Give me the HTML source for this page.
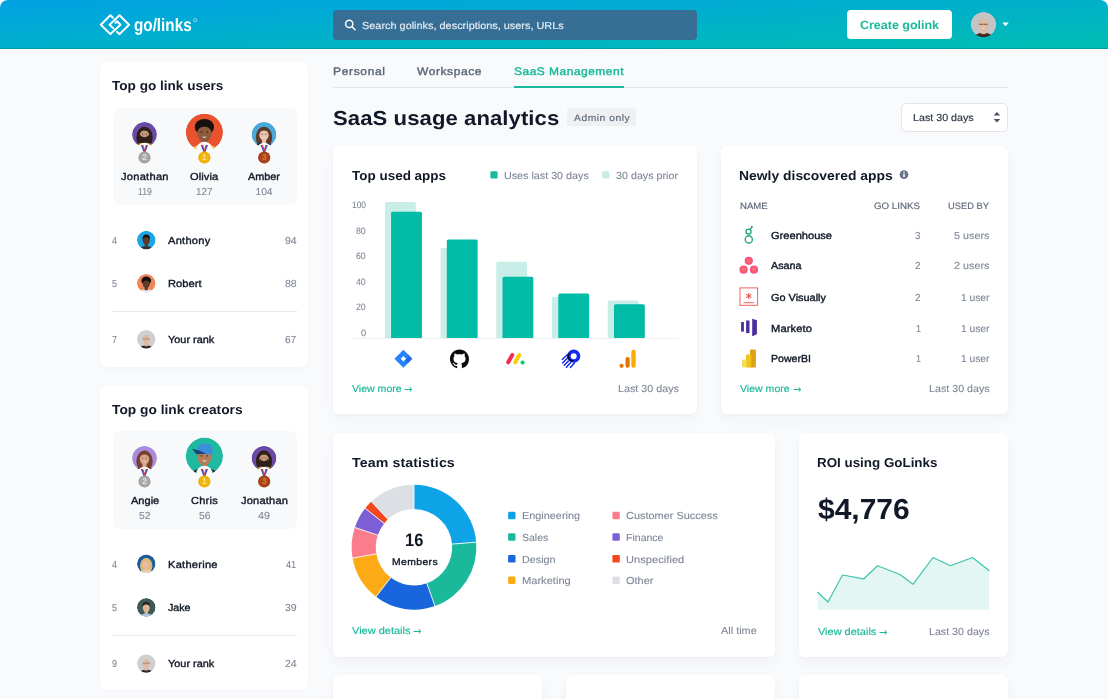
<!DOCTYPE html>
<html lang="en">
<head>
<meta charset="utf-8">
<title>GoLinks – SaaS usage analytics</title>
<style>
html,body{margin:0;padding:0;background:#fff;}
body{width:1108px;height:699px;overflow:hidden;position:relative;font-family:"Liberation Sans",sans-serif;}
#app{position:absolute;left:0;top:0;width:1108px;height:699px;background:#f9fafc;border-radius:8px 8px 0 0;overflow:hidden;}
.abs{position:absolute;}
.t{position:absolute;line-height:1;white-space:pre;transform-origin:0 50%;text-rendering:geometricPrecision;}
#hdr{position:absolute;left:0;top:0;width:1108px;height:48.6px;background:linear-gradient(to bottom right,#00a2e3,#00beb2);}
.card{position:absolute;background:#fff;border-radius:6px;box-shadow:0 6px 14px rgba(40,50,70,.04),0 1px 3px rgba(40,50,70,.025);}
.lcard{position:absolute;background:#fff;border-radius:7px;box-shadow:0 2px 6px rgba(30,50,90,.025);}
.panel{position:absolute;background:#f8f9fb;border-radius:7px;}
.hr{position:absolute;height:1px;background:#e6e8ec;}
.sq{position:absolute;width:7.5px;height:7.5px;border-radius:1.5px;}
</style>
</head>
<body>
<div id="app">
<div id="hdr"></div>
<div class="abs" style="left:0;top:47.7px;width:1108px;height:1px;background:rgba(0,70,120,.22);"></div>
<div class="abs" style="left:0;top:48.7px;width:1108px;height:1.6px;background:linear-gradient(#fff,rgba(255,255,255,0));"></div>
<!-- search -->
<div class="abs" style="left:333px;top:10px;width:364px;height:29.5px;border-radius:4px;background:#366e95;"></div>
<!-- create button -->
<div class="abs" style="left:847.3px;top:9.9px;width:104.9px;height:29.6px;border-radius:4px;background:#fff;"></div>

<!-- left cards -->
<div class="lcard" style="left:100px;top:61.6px;width:208.4px;height:305px;"></div>
<div class="panel" style="left:112.5px;top:107.5px;width:184px;height:97.5px;"></div>
<div class="hr" style="left:112px;top:310.8px;width:184.5px;"></div>
<div class="lcard" style="left:100px;top:386px;width:208.4px;height:304px;"></div>
<div class="panel" style="left:112.5px;top:431.3px;width:184px;height:97.5px;"></div>
<div class="hr" style="left:112px;top:634.7px;width:184.5px;"></div>

<!-- tabs line -->
<div class="hr" style="left:333px;top:87px;width:675px;background:#e3e7ec;"></div>
<div class="abs" style="left:513.5px;top:86px;width:110.5px;height:2.2px;background:#1ab99b;"></div>
<!-- admin badge -->
<div class="abs" style="left:567px;top:108px;width:69px;height:18.3px;border-radius:3px;background:#eef0f3;"></div>
<!-- dropdown -->
<div class="abs" style="left:900.5px;top:102.5px;width:107.3px;height:29.3px;box-sizing:border-box;border:1px solid #e2e6eb;border-radius:5px;background:#fff;"></div>

<!-- cards -->
<div class="card" style="left:333px;top:146.3px;width:364px;height:268px;"></div>
<div class="card" style="left:721.2px;top:146.3px;width:286.6px;height:268px;"></div>
<div class="card" style="left:333px;top:433.1px;width:442.4px;height:223.6px;"></div>
<div class="card" style="left:798.6px;top:433.1px;width:209.3px;height:223.6px;"></div>
<div class="card" style="left:333px;top:675.2px;width:209.3px;height:60px;"></div>
<div class="card" style="left:566px;top:675.2px;width:209.3px;height:60px;"></div>
<div class="card" style="left:798.6px;top:675.2px;width:209.3px;height:60px;"></div>

<svg class="abs" style="left:0;top:0" width="1108" height="699" viewBox="0 0 1108 699">
<g fill="none" stroke="#fff" stroke-width="2.0" stroke-linejoin="round" stroke-linecap="round">
<path d="M112.9 17.7 L110.4 15.3 L100.8 24.7 L110.4 34.1 L120.5 24.7 L117.1 21.3 L115.5 22.9"/>
<path d="M117 31.7 L119.5 34.1 L129.1 24.7 L119.5 15.3 L109.6 24.7 L113.4 28.4"/>
</g>
<circle cx="195.3" cy="20.2" r="1.6" fill="none" stroke="#fff" stroke-opacity=".75" stroke-width=".7"/>
<g fill="none" stroke="#fff" stroke-width="1.5" stroke-linecap="round"><circle cx="349.2" cy="23.9" r="3.6"/><path d="M352 26.8 L355 29.8"/></g>
<path d="M1002.2 22.6 h6.6 l-3.3 3.6 z" fill="#fff"/>
<path d="M993.6 115.6 l3.3 -3.6 l3.3 3.6 z M993.6 118.9 l3.3 3.6 l3.3 -3.6 z" fill="#4a5568"/>
<circle cx="904" cy="174.6" r="4.4" fill="#6b7587"/><rect x="903.3" y="173.9" width="1.4" height="3.2" fill="#fff"/><rect x="903.3" y="171.8" width="1.4" height="1.3" fill="#fff"/>
<rect x="490.4" y="171.3" width="7.2" height="7.2" rx="1.3" fill="#1ab99b"/>
<rect x="602.2" y="171.3" width="7.2" height="7.2" rx="1.3" fill="#c5ede5"/>
<path d="M385 338.0 V203.5 q0 -1.5 1.5 -1.5 H414.3 q1.5 0 1.5 1.5 V338.0 z" fill="#c8eee7"/>
<path d="M440.6 338.0 V249.5 q0 -1.5 1.5 -1.5 H469.90000000000003 q1.5 0 1.5 1.5 V338.0 z" fill="#c8eee7"/>
<path d="M496.3 338.0 V263.3 q0 -1.5 1.5 -1.5 H525.6 q1.5 0 1.5 1.5 V338.0 z" fill="#c8eee7"/>
<path d="M552 338.0 V298.5 q0 -1.5 1.5 -1.5 H581.3 q1.5 0 1.5 1.5 V338.0 z" fill="#c8eee7"/>
<path d="M607.8 338.0 V301.9 q0 -1.5 1.5 -1.5 H637.0999999999999 q1.5 0 1.5 1.5 V338.0 z" fill="#c8eee7"/>
<path d="M391.1 338.0 V213.3 q0 -1.5 1.5 -1.5 H420.40000000000003 q1.5 0 1.5 1.5 V338.0 z" fill="#00bba5"/>
<path d="M446.8 338.0 V241.0 q0 -1.5 1.5 -1.5 H476.1 q1.5 0 1.5 1.5 V338.0 z" fill="#00bba5"/>
<path d="M502.5 338.0 V278.3 q0 -1.5 1.5 -1.5 H531.8 q1.5 0 1.5 1.5 V338.0 z" fill="#00bba5"/>
<path d="M558.3 338.0 V295.0 q0 -1.5 1.5 -1.5 H587.5999999999999 q1.5 0 1.5 1.5 V338.0 z" fill="#00bba5"/>
<path d="M614 338.0 V305.8 q0 -1.5 1.5 -1.5 H643.3 q1.5 0 1.5 1.5 V338.0 z" fill="#00bba5"/>
<rect x="351.5" y="338.0" width="328" height="1" fill="#eef1f4"/>
<g transform="translate(403.4 358.8)"><path d="M0 -9 L9 0 L0 9 L-9 0 z" fill="#2684ff"/><path d="M0 -9 L4.6 -4.4 L0 0.2 L-2.7 -2.6 L0 -5.3 z" fill="#1c5bd2" opacity=".55" transform="translate(4.4 4.4)"/><path d="M-9 0 L-4.5 4.5 L0 0 L0 -2.7 L-2.7 0 z" fill="#1c5bd2" opacity=".0"/><path d="M0 -2.7 L2.7 0 L0 2.7 L-2.7 0 z" fill="#fff"/></g>
<g transform="translate(450 349.6) scale(1.1875)"><path fill="#0b0b0b" d="M8 0C3.58 0 0 3.58 0 8c0 3.54 2.29 6.53 5.47 7.59.4.07.55-.17.55-.38 0-.19-.01-.82-.01-1.49-2.01.37-2.53-.49-2.69-.94-.09-.23-.48-.94-.82-1.13-.28-.15-.68-.52-.01-.53.63-.01 1.08.58 1.23.82.72 1.21 1.87.87 2.33.66.07-.52.28-.87.51-1.07-1.78-.2-3.64-.89-3.64-3.95 0-.87.31-1.59.82-2.15-.08-.2-.36-1.02.08-2.12 0 0 .67-.21 2.2.82.64-.18 1.32-.27 2-.27s1.36.09 2 .27c1.53-1.04 2.2-.82 2.2-.82.44 1.1.16 1.92.08 2.12.51.56.82 1.27.82 2.15 0 3.07-1.87 3.75-3.65 3.95.29.25.54.73.54 1.48 0 1.07-.01 1.93-.01 2.2 0 .21.15.46.55.38A8.01 8.01 0 0 0 16 8c0-4.42-3.58-8-8-8z"/></g>
<g stroke-linecap="round" stroke-width="4" fill="none"><path d="M508.2 362.3 L512.3 355.1" stroke="#f62b54"/><path d="M515.2 362.3 L519.3 355.1" stroke="#ffcc00"/></g><circle cx="522.6" cy="362.5" r="2.1" fill="#00ca72"/>
<g fill="none" stroke="#1428f0" stroke-linecap="round"><circle cx="573.7" cy="356.2" r="4.8" stroke-width="3.6"/><g stroke-width="1.45"><path d="M567.0 355.0 L562.3 359.6"/><path d="M567.6 358.0 L562.6 362.9"/><path d="M568.4 360.9 L564.2 365.2"/><path d="M570.6 362.6 L566.4 367.2"/><path d="M574.4 362.9 L570.4 367.4"/></g></g><path d="M569.2 353.6 A4.3 4.3 0 0 0 573.6 360.6" fill="none" stroke="#07072e" stroke-width="1.5"/>
<rect x="631.3" y="349.8" width="4.4" height="18" rx="2.2" fill="#f9ab00"/><rect x="625.5" y="357" width="4.2" height="10.8" rx="2.1" fill="#e37400"/><circle cx="621.6" cy="365.8" r="2.1" fill="#e37400"/>
<g fill="none" stroke="#24a47f" stroke-width="1.35"><circle cx="748.8" cy="239.4" r="3.6"/><circle cx="748.5" cy="231.6" r="2.5"/><path d="M750.2 229.6 L751.6 227.6" stroke-linecap="round"/></g><circle cx="751.9" cy="226.7" r="0.95" fill="#24a47f"/>
<defs><radialGradient id="as" cx="50%" cy="50%" r="50%"><stop offset="0" stop-color="#ff9a3c"/><stop offset=".55" stop-color="#f95d8f"/><stop offset="1" stop-color="#f4506f"/></radialGradient></defs>
<circle cx="748.8" cy="260.8" r="4.1" fill="#f6557d"/><circle cx="748.8" cy="260.8" r="2" fill="#fb7f5e" opacity=".6"/>
<circle cx="743.6" cy="269.7" r="4.1" fill="#f6557d"/><circle cx="743.6" cy="269.7" r="2" fill="#fb7f5e" opacity=".6"/>
<circle cx="754" cy="269.7" r="4.1" fill="#f6557d"/><circle cx="754" cy="269.7" r="2" fill="#fb7f5e" opacity=".6"/>
<rect x="740" y="287.9" width="17.6" height="17.4" fill="#fff" stroke="#f0625a" stroke-width="1"/><path d="M743.4 302.7 H754.2" stroke="#f0625a" stroke-width="1"/><g stroke="#ee4b43" stroke-width="1" stroke-linecap="round"><path d="M748.8 293.2 V298.8 M746.4 294.6 L751.2 297.4 M751.2 294.6 L746.4 297.4"/></g>
<g fill="#4b2e9b"><rect x="741.1" y="322" width="2.8" height="9.6"/><rect x="746.1" y="320.5" width="3.4" height="12.6"/><path d="M752.2 318.7 L756.9 320.2 V334.2 L752.2 336.2 z"/></g>
<rect x="750" y="349.6" width="5.9" height="18" rx=".8" fill="#e0a019"/><rect x="746" y="354.4" width="5.2" height="13.2" rx=".8" fill="#f0c419"/><rect x="742" y="359.4" width="4.6" height="8.2" rx=".8" fill="#f6dc5e"/>
<path d="M414.00 484.85 A62.4 62.4 0 0 1 476.19 542.14 L452.07 544.12 A38.199999999999996 38.199999999999996 0 0 0 414.00 509.05 z" fill="#0ea2e6"/>
<path d="M476.19 542.14 A62.4 62.4 0 0 1 434.93 606.03 L426.81 583.24 A38.199999999999996 38.199999999999996 0 0 0 452.07 544.12 z" fill="#1ab99b"/>
<path d="M434.93 606.03 A62.4 62.4 0 0 1 376.01 596.76 L390.75 577.56 A38.199999999999996 38.199999999999996 0 0 0 426.81 583.24 z" fill="#1865dd"/>
<path d="M376.01 596.76 A62.4 62.4 0 0 1 352.55 558.09 L376.38 553.88 A38.199999999999996 38.199999999999996 0 0 0 390.75 577.56 z" fill="#fcab17"/>
<path d="M352.55 558.09 A62.4 62.4 0 0 1 354.82 527.45 L377.77 535.13 A38.199999999999996 38.199999999999996 0 0 0 376.38 553.88 z" fill="#fb7d8b"/>
<path d="M354.82 527.45 A62.4 62.4 0 0 1 365.23 508.32 L384.15 523.42 A38.199999999999996 38.199999999999996 0 0 0 377.77 535.13 z" fill="#7c5fd4"/>
<path d="M365.23 508.32 A62.4 62.4 0 0 1 371.44 501.61 L387.95 519.31 A38.199999999999996 38.199999999999996 0 0 0 384.15 523.42 z" fill="#f4471f"/>
<path d="M371.44 501.61 A62.4 62.4 0 0 1 414.00 484.85 L414.00 509.05 A38.199999999999996 38.199999999999996 0 0 0 387.95 519.31 z" fill="#dcdfe4"/>
<path d="M414.00 484.35 L414.00 509.55" stroke="#fff" stroke-width="1" stroke-opacity=".85"/>
<path d="M476.69 542.10 L451.57 544.16" stroke="#fff" stroke-width="1" stroke-opacity=".85"/>
<path d="M435.10 606.51 L426.65 582.77" stroke="#fff" stroke-width="1" stroke-opacity=".85"/>
<path d="M375.71 597.15 L391.05 577.16" stroke="#fff" stroke-width="1" stroke-opacity=".85"/>
<path d="M352.06 558.17 L376.87 553.80" stroke="#fff" stroke-width="1" stroke-opacity=".85"/>
<path d="M354.35 527.29 L378.25 535.29" stroke="#fff" stroke-width="1" stroke-opacity=".85"/>
<path d="M364.84 508.01 L384.54 523.73" stroke="#fff" stroke-width="1" stroke-opacity=".85"/>
<path d="M371.10 501.25 L388.29 519.68" stroke="#fff" stroke-width="1" stroke-opacity=".85"/>
<rect x="508.1" y="511.8" width="7.4" height="7.4" rx="1.3" fill="#0ea2e6"/>
<rect x="508.1" y="533.3" width="7.4" height="7.4" rx="1.3" fill="#1ab99b"/>
<rect x="508.1" y="555.05" width="7.4" height="7.4" rx="1.3" fill="#1865dd"/>
<rect x="508.1" y="576.55" width="7.4" height="7.4" rx="1.3" fill="#fcab17"/>
<rect x="612.4" y="511.8" width="7.4" height="7.4" rx="1.3" fill="#fb7d8b"/>
<rect x="612.4" y="533.3" width="7.4" height="7.4" rx="1.3" fill="#7c5fd4"/>
<rect x="612.4" y="555.05" width="7.4" height="7.4" rx="1.3" fill="#f4471f"/>
<rect x="612.4" y="576.55" width="7.4" height="7.4" rx="1.3" fill="#dcdfe4"/>
<path d="M817.5 592 L828 602 L842.5 575 L863.8 578.8 L877.5 565.8 L900 574.5 L913 584.3 L933 557.5 L950.5 565.8 L972.5 557.5 L989.3 570.8 L989.3 609.8 L817.5 609.8 z" fill="#e3f6f3"/>
<path d="M817.5 592 L828 602 L842.5 575 L863.8 578.8 L877.5 565.8 L900 574.5 L913 584.3 L933 557.5 L950.5 565.8 L972.5 557.5 L989.3 570.8" fill="none" stroke="#3cc5ad" stroke-width="1.2" stroke-linejoin="round"/>
<clipPath id="av1"><circle cx="144.5" cy="134.4" r="12.4"/></clipPath>
<g clip-path="url(#av1)">
<circle cx="144.5" cy="134.4" r="12.4" fill="#6a4aa5"/>
<ellipse cx="144.5" cy="137.38" rx="8.18" ry="10.66" fill="#2e2019"/>
<ellipse cx="144.5" cy="149.28" rx="11.16" ry="6.82" fill="#b48a3a"/>
<rect x="142.39" y="138.12" width="4.22" height="5.58" fill="#c99778"/>
<ellipse cx="144.5" cy="134.65" rx="4.71" ry="6.20" fill="#c99778"/>
<path d="M139.79 134.65 Q139.79 143.33 144.5 143.33 Q149.21 143.33 149.21 134.65 Q144.5 139.86 139.79 134.65 z" fill="#2e2019"/>
<path d="M139.42 133.90 Q139.17 126.96 144.5 126.96 Q149.83 126.96 149.58 133.90 Q147.23 130.18 144.5 130.68 Q141.77 130.18 139.42 133.90 z" fill="#2e2019"/>
<circle cx="142.64" cy="134.15" r="0.56" fill="#2a1a14" opacity=".75"/><circle cx="146.36" cy="134.15" r="0.56" fill="#2a1a14" opacity=".75"/>
</g>
<clipPath id="av2"><circle cx="204.4" cy="132.3" r="18.6"/></clipPath>
<g clip-path="url(#av2)">
<circle cx="204.4" cy="132.3" r="18.6" fill="#e9512f"/>
<ellipse cx="204.4" cy="127.09" rx="9.67" ry="8.18" fill="#17110f"/>
<ellipse cx="204.4" cy="154.62" rx="16.74" ry="10.23" fill="#f0c46a"/>
<rect x="201.24" y="137.88" width="6.32" height="8.37" fill="#8c5b3e"/>
<ellipse cx="204.4" cy="132.67" rx="7.07" ry="9.30" fill="#8c5b3e"/>
<path d="M196.77 131.56 Q196.40 121.14 204.4 121.14 Q212.40 121.14 212.03 131.56 Q208.49 125.98 204.4 126.72 Q200.31 125.98 196.77 131.56 z" fill="#17110f"/>
<circle cx="201.61" cy="131.93" r="0.84" fill="#2a1a14" opacity=".75"/><circle cx="207.19" cy="131.93" r="0.84" fill="#2a1a14" opacity=".75"/>
<path d="M201.98 136.76 Q204.4 139.00 206.82 136.76 z" fill="#fff" opacity=".85"/>
</g>
<clipPath id="av3"><circle cx="264.0" cy="134.4" r="12.4"/></clipPath>
<g clip-path="url(#av3)">
<circle cx="264.0" cy="134.4" r="12.4" fill="#49a8d6"/>
<ellipse cx="264.0" cy="137.38" rx="8.18" ry="10.66" fill="#5e3a2a"/>
<ellipse cx="264.0" cy="149.28" rx="11.16" ry="6.82" fill="#1e2a44"/>
<rect x="261.89" y="138.12" width="4.22" height="5.58" fill="#e9c3ad"/>
<ellipse cx="264.0" cy="134.65" rx="4.71" ry="6.20" fill="#e9c3ad"/>
<path d="M258.92 133.90 Q258.67 126.96 264.0 126.96 Q269.33 126.96 269.08 133.90 Q266.73 130.18 264.0 130.68 Q261.27 130.18 258.92 133.90 z" fill="#5e3a2a"/>
<circle cx="262.14" cy="134.15" r="0.56" fill="#2a1a14" opacity=".75"/><circle cx="265.86" cy="134.15" r="0.56" fill="#2a1a14" opacity=".75"/>
<path d="M262.39 137.38 Q264.0 138.86 265.61 137.38 z" fill="#fff" opacity=".85"/>
</g>
<clipPath id="av4"><circle cx="146.25" cy="240" r="9.3"/></clipPath>
<g clip-path="url(#av4)">
<circle cx="146.25" cy="240" r="9.3" fill="#19a6e2"/>
<ellipse cx="146.25" cy="251.16" rx="8.37" ry="5.12" fill="#26323a"/>
<rect x="144.67" y="242.79" width="3.16" height="4.19" fill="#5a3a2a"/>
<ellipse cx="146.25" cy="240.19" rx="3.53" ry="4.65" fill="#5a3a2a"/>
<path d="M142.44 239.63 Q142.25 234.42 146.25 234.42 Q150.25 234.42 150.06 239.63 Q148.30 236.84 146.25 237.21 Q144.20 236.84 142.44 239.63 z" fill="#16110f"/>
</g>
<clipPath id="av5"><circle cx="146.25" cy="283.25" r="9.3"/></clipPath>
<g clip-path="url(#av5)">
<circle cx="146.25" cy="283.25" r="9.3" fill="#f0865c"/>
<ellipse cx="146.25" cy="280.65" rx="4.84" ry="4.09" fill="#15100e"/>
<ellipse cx="146.25" cy="294.41" rx="8.37" ry="5.12" fill="#e9edf2"/>
<rect x="144.67" y="286.04" width="3.16" height="4.19" fill="#5c3b2b"/>
<ellipse cx="146.25" cy="283.44" rx="3.53" ry="4.65" fill="#5c3b2b"/>
<path d="M142.44 282.88 Q142.25 277.67 146.25 277.67 Q150.25 277.67 150.06 282.88 Q148.30 280.09 146.25 280.46 Q144.20 280.09 142.44 282.88 z" fill="#15100e"/>
</g>
<clipPath id="av6"><circle cx="146.25" cy="339.25" r="9.3"/></clipPath>
<g clip-path="url(#av6)">
<circle cx="146.25" cy="339.25" r="9.3" fill="#cfcfcf"/>
<ellipse cx="146.25" cy="350.41" rx="8.37" ry="5.12" fill="#2a2a2a"/>
<rect x="144.67" y="342.04" width="3.16" height="4.19" fill="#e2b9a0"/>
<ellipse cx="146.25" cy="339.44" rx="3.53" ry="4.65" fill="#e2b9a0"/>
<path d="M142.72 338.97 H149.78" stroke="#5a5048" stroke-width="0.65" opacity=".7"/>
</g>
<clipPath id="av7"><circle cx="144.5" cy="458.3" r="12.4"/></clipPath>
<g clip-path="url(#av7)">
<circle cx="144.5" cy="458.3" r="12.4" fill="#a88ddd"/>
<ellipse cx="144.5" cy="461.28" rx="8.18" ry="10.66" fill="#7a3f33"/>
<ellipse cx="144.5" cy="473.18" rx="11.16" ry="6.82" fill="#6d3a30"/>
<rect x="142.39" y="462.02" width="4.22" height="5.58" fill="#d9a689"/>
<ellipse cx="144.5" cy="458.55" rx="4.71" ry="6.20" fill="#d9a689"/>
<path d="M139.42 457.80 Q139.17 450.86 144.5 450.86 Q149.83 450.86 149.58 457.80 Q147.23 454.08 144.5 454.58 Q141.77 454.08 139.42 457.80 z" fill="#7a3f33"/>
<circle cx="142.64" cy="458.05" r="0.56" fill="#2a1a14" opacity=".75"/><circle cx="146.36" cy="458.05" r="0.56" fill="#2a1a14" opacity=".75"/>
<path d="M142.89 461.28 Q144.5 462.76 146.11 461.28 z" fill="#fff" opacity=".85"/>
</g>
<clipPath id="av8"><circle cx="204.4" cy="456.1" r="18.6"/></clipPath>
<g clip-path="url(#av8)">
<circle cx="204.4" cy="456.1" r="18.6" fill="#1fb9a1"/>
<ellipse cx="204.4" cy="478.42" rx="16.74" ry="10.23" fill="#2a2d33"/>
<rect x="201.24" y="461.68" width="6.32" height="8.37" fill="#b37d5a"/>
<ellipse cx="204.4" cy="456.47" rx="7.07" ry="9.30" fill="#b37d5a"/>
<path d="M196.22 453.87 Q195.84 443.08 204.77 443.45 Q213.70 443.82 212.58 454.61 z" fill="#3b8fd9"/>
<path d="M192.12 448.66 Q198.82 449.78 206.26 453.87 L196.59 454.24 z" fill="#1d3f7a"/>
<circle cx="201.61" cy="455.73" r="0.84" fill="#2a1a14" opacity=".75"/><circle cx="207.19" cy="455.73" r="0.84" fill="#2a1a14" opacity=".75"/>
<path d="M201.98 460.56 Q204.4 462.80 206.82 460.56 z" fill="#fff" opacity=".85"/>
</g>
<clipPath id="av9"><circle cx="264.0" cy="458.3" r="12.4"/></clipPath>
<g clip-path="url(#av9)">
<circle cx="264.0" cy="458.3" r="12.4" fill="#6a4aa5"/>
<ellipse cx="264.0" cy="461.28" rx="8.18" ry="10.66" fill="#2e2019"/>
<ellipse cx="264.0" cy="473.18" rx="11.16" ry="6.82" fill="#b48a3a"/>
<rect x="261.89" y="462.02" width="4.22" height="5.58" fill="#c99778"/>
<ellipse cx="264.0" cy="458.55" rx="4.71" ry="6.20" fill="#c99778"/>
<path d="M259.29 458.55 Q259.29 467.23 264.0 467.23 Q268.71 467.23 268.71 458.55 Q264.0 463.76 259.29 458.55 z" fill="#2e2019"/>
<path d="M258.92 457.80 Q258.67 450.86 264.0 450.86 Q269.33 450.86 269.08 457.80 Q266.73 454.08 264.0 454.58 Q261.27 454.08 258.92 457.80 z" fill="#2e2019"/>
<circle cx="262.14" cy="458.05" r="0.56" fill="#2a1a14" opacity=".75"/><circle cx="265.86" cy="458.05" r="0.56" fill="#2a1a14" opacity=".75"/>
</g>
<clipPath id="av10"><circle cx="146.25" cy="563.8" r="9.3"/></clipPath>
<g clip-path="url(#av10)">
<circle cx="146.25" cy="563.8" r="9.3" fill="#1b5c9c"/>
<ellipse cx="146.25" cy="566.03" rx="6.14" ry="8.00" fill="#dfb877"/>
<ellipse cx="146.25" cy="574.96" rx="8.37" ry="5.12" fill="#e7d2b8"/>
<rect x="144.67" y="566.59" width="3.16" height="4.19" fill="#e8bd9f"/>
<ellipse cx="146.25" cy="563.99" rx="3.53" ry="4.65" fill="#e8bd9f"/>
<path d="M142.44 563.43 Q142.25 558.22 146.25 558.22 Q150.25 558.22 150.06 563.43 Q148.30 560.64 146.25 561.01 Q144.20 560.64 142.44 563.43 z" fill="#dfb877"/>
</g>
<clipPath id="av11"><circle cx="146.25" cy="607.4" r="9.3"/></clipPath>
<g clip-path="url(#av11)">
<circle cx="146.25" cy="607.4" r="9.3" fill="#3e5a55"/>
<ellipse cx="146.25" cy="618.56" rx="8.37" ry="5.12" fill="#a9c7e6"/>
<rect x="144.67" y="610.19" width="3.16" height="4.19" fill="#e0b498"/>
<ellipse cx="146.25" cy="607.59" rx="3.53" ry="4.65" fill="#e0b498"/>
<path d="M142.44 607.03 Q142.25 601.82 146.25 601.82 Q150.25 601.82 150.06 607.03 Q148.30 604.24 146.25 604.61 Q144.20 604.24 142.44 607.03 z" fill="#2a221d"/>
</g>
<clipPath id="av12"><circle cx="146.25" cy="663.5" r="9.3"/></clipPath>
<g clip-path="url(#av12)">
<circle cx="146.25" cy="663.5" r="9.3" fill="#cfcfcf"/>
<ellipse cx="146.25" cy="674.66" rx="8.37" ry="5.12" fill="#2a2a2a"/>
<rect x="144.67" y="666.29" width="3.16" height="4.19" fill="#e2b9a0"/>
<ellipse cx="146.25" cy="663.69" rx="3.53" ry="4.65" fill="#e2b9a0"/>
<path d="M142.72 663.22 H149.78" stroke="#5a5048" stroke-width="0.65" opacity=".7"/>
</g>
<clipPath id="av13"><circle cx="983.5" cy="24.6" r="12.7"/></clipPath>
<g clip-path="url(#av13)">
<circle cx="983.5" cy="24.6" r="12.7" fill="#c4c4c4"/>
<ellipse cx="983.5" cy="39.84" rx="11.43" ry="6.99" fill="#3a2d28"/>
<rect x="981.34" y="28.41" width="4.32" height="5.71" fill="#e2b9a0"/>
<ellipse cx="983.5" cy="24.85" rx="4.83" ry="6.35" fill="#e2b9a0"/>
<path d="M978.67 24.22 H988.33" stroke="#5a5048" stroke-width="0.89" opacity=".7"/>
<circle cx="981.60" cy="24.35" r="0.57" fill="#2a1a14" opacity=".75"/><circle cx="985.40" cy="24.35" r="0.57" fill="#2a1a14" opacity=".75"/>
<path d="M981.85 27.65 Q983.5 29.17 985.15 27.65 z" fill="#fff" opacity=".85"/>
</g>
<circle cx="144.5" cy="150.1" r="7.4" fill="#f8f9fb"/>
<path d="M140.9 144.9 l1.7 0 l1.9 5.6 l1.9 -5.6 l1.7 0 l-2.7 7.4 l-1.8 0 z" fill="#2a4fc8"/>
<path d="M142.1 144.9 l1.2 0 l1.2 4 l1.2 -4 l1.2 0 l-1.9 6 l-1 0 z" fill="#e23b3b"/>
<path d="M143.8 144.9 h1.4 l-.7 2.6 z" fill="#fff"/>
<circle cx="144.5" cy="157.5" r="6.1" fill="#a9a9a9"/><circle cx="144.5" cy="157.5" r="5.2" fill="none" stroke="#8e8e8e" stroke-width=".6" opacity=".6"/>
<text x="144.5" y="160.4" text-anchor="middle" font-family="Liberation Sans, sans-serif" font-weight="700" font-size="8.2" fill="#e0e0e0">2</text>
<circle cx="204.4" cy="150.1" r="8.3" fill="#f8f9fb"/>
<path d="M200.8 144.9 l1.7 0 l1.9 5.6 l1.9 -5.6 l1.7 0 l-2.7 7.4 l-1.8 0 z" fill="#2a4fc8"/>
<path d="M202.0 144.9 l1.2 0 l1.2 4 l1.2 -4 l1.2 0 l-1.9 6 l-1 0 z" fill="#e23b3b"/>
<path d="M203.70000000000002 144.9 h1.4 l-.7 2.6 z" fill="#fff"/>
<circle cx="204.4" cy="157.5" r="6.1" fill="#f5b50d"/><circle cx="204.4" cy="157.5" r="5.2" fill="none" stroke="#d99a00" stroke-width=".6" opacity=".6"/>
<text x="204.4" y="160.4" text-anchor="middle" font-family="Liberation Sans, sans-serif" font-weight="700" font-size="8.2" fill="#ffe27a">1</text>
<circle cx="264.2" cy="150.1" r="7.4" fill="#f8f9fb"/>
<path d="M260.59999999999997 144.9 l1.7 0 l1.9 5.6 l1.9 -5.6 l1.7 0 l-2.7 7.4 l-1.8 0 z" fill="#2a4fc8"/>
<path d="M261.8 144.9 l1.2 0 l1.2 4 l1.2 -4 l1.2 0 l-1.9 6 l-1 0 z" fill="#e23b3b"/>
<path d="M263.5 144.9 h1.4 l-.7 2.6 z" fill="#fff"/>
<circle cx="264.2" cy="157.5" r="6.1" fill="#a9441d"/><circle cx="264.2" cy="157.5" r="5.2" fill="none" stroke="#8a3414" stroke-width=".6" opacity=".6"/>
<text x="264.2" y="160.4" text-anchor="middle" font-family="Liberation Sans, sans-serif" font-weight="700" font-size="8.2" fill="#e07a2d">3</text>
<circle cx="144.5" cy="474.1" r="7.4" fill="#f8f9fb"/>
<path d="M140.9 468.9 l1.7 0 l1.9 5.6 l1.9 -5.6 l1.7 0 l-2.7 7.4 l-1.8 0 z" fill="#2a4fc8"/>
<path d="M142.1 468.9 l1.2 0 l1.2 4 l1.2 -4 l1.2 0 l-1.9 6 l-1 0 z" fill="#e23b3b"/>
<path d="M143.8 468.9 h1.4 l-.7 2.6 z" fill="#fff"/>
<circle cx="144.5" cy="481.5" r="6.1" fill="#a9a9a9"/><circle cx="144.5" cy="481.5" r="5.2" fill="none" stroke="#8e8e8e" stroke-width=".6" opacity=".6"/>
<text x="144.5" y="484.4" text-anchor="middle" font-family="Liberation Sans, sans-serif" font-weight="700" font-size="8.2" fill="#e0e0e0">2</text>
<circle cx="204.4" cy="474.1" r="8.3" fill="#f8f9fb"/>
<path d="M200.8 468.9 l1.7 0 l1.9 5.6 l1.9 -5.6 l1.7 0 l-2.7 7.4 l-1.8 0 z" fill="#2a4fc8"/>
<path d="M202.0 468.9 l1.2 0 l1.2 4 l1.2 -4 l1.2 0 l-1.9 6 l-1 0 z" fill="#e23b3b"/>
<path d="M203.70000000000002 468.9 h1.4 l-.7 2.6 z" fill="#fff"/>
<circle cx="204.4" cy="481.5" r="6.1" fill="#f5b50d"/><circle cx="204.4" cy="481.5" r="5.2" fill="none" stroke="#d99a00" stroke-width=".6" opacity=".6"/>
<text x="204.4" y="484.4" text-anchor="middle" font-family="Liberation Sans, sans-serif" font-weight="700" font-size="8.2" fill="#ffe27a">1</text>
<circle cx="264.2" cy="474.1" r="7.4" fill="#f8f9fb"/>
<path d="M260.59999999999997 468.9 l1.7 0 l1.9 5.6 l1.9 -5.6 l1.7 0 l-2.7 7.4 l-1.8 0 z" fill="#2a4fc8"/>
<path d="M261.8 468.9 l1.2 0 l1.2 4 l1.2 -4 l1.2 0 l-1.9 6 l-1 0 z" fill="#e23b3b"/>
<path d="M263.5 468.9 h1.4 l-.7 2.6 z" fill="#fff"/>
<circle cx="264.2" cy="481.5" r="6.1" fill="#a9441d"/><circle cx="264.2" cy="481.5" r="5.2" fill="none" stroke="#8a3414" stroke-width=".6" opacity=".6"/>
<text x="264.2" y="484.4" text-anchor="middle" font-family="Liberation Sans, sans-serif" font-weight="700" font-size="8.2" fill="#e07a2d">3</text>
</svg>
<div class="t" style="left:134.20px;top:16px;font-size:18px;font-weight:700;color:#ffffff;transform:scaleX(0.847);">go/links</div>
<div class="t" style="left:362.00px;top:22px;font-size:10.2px;-webkit-text-stroke:0.16px currentColor;color:#e4edf4;transform:scaleX(1.070);">Search golinks, descriptions, users, URLs</div>
<div class="t" style="left:860.30px;top:19px;font-size:12px;font-weight:700;color:#1ab99b;transform:scaleX(1.040);">Create golink</div>
<div class="t" style="left:111.90px;top:79px;font-size:13px;font-weight:700;color:#111827;transform:scaleX(1.044);">Top go link users</div>
<div class="t" style="left:120.75px;top:173px;font-size:10.2px;-webkit-text-stroke:0.37px currentColor;color:#111827;letter-spacing:0.237px;transform:scaleX(1.090);">Jonathan</div>
<div class="t" style="left:190.00px;top:173px;font-size:10.2px;-webkit-text-stroke:0.37px currentColor;color:#111827;letter-spacing:0.087px;transform:scaleX(1.090);">Olivia</div>
<div class="t" style="left:248.00px;top:173px;font-size:10.2px;-webkit-text-stroke:0.37px currentColor;color:#111827;transform:scaleX(1.066);">Amber</div>
<div class="t" style="left:137.50px;top:188px;font-size:10.2px;-webkit-text-stroke:0.08px currentColor;color:#7b8494;transform:scaleX(0.846);">119</div>
<div class="t" style="left:196.00px;top:188px;font-size:10.2px;-webkit-text-stroke:0.08px currentColor;color:#7b8494;transform:scaleX(0.971);">127</div>
<div class="t" style="left:255.50px;top:188px;font-size:10.2px;-webkit-text-stroke:0.08px currentColor;color:#7b8494;">104</div>
<div class="t" style="left:112.00px;top:237px;font-size:10.2px;-webkit-text-stroke:0.08px currentColor;color:#7b8494;transform:scaleX(0.882);">4</div>
<div class="t" style="left:168.25px;top:237px;font-size:10.2px;-webkit-text-stroke:0.37px currentColor;color:#111827;letter-spacing:0.228px;transform:scaleX(1.090);">Anthony</div>
<div class="t" style="left:284.50px;top:237px;font-size:10.2px;-webkit-text-stroke:0.08px currentColor;color:#7b8494;transform:scaleX(1.036);">94</div>
<div class="t" style="left:112.00px;top:280px;font-size:10.2px;-webkit-text-stroke:0.08px currentColor;color:#7b8494;transform:scaleX(0.882);">5</div>
<div class="t" style="left:168.25px;top:280px;font-size:10.2px;-webkit-text-stroke:0.37px currentColor;color:#111827;letter-spacing:0.031px;transform:scaleX(1.090);">Robert</div>
<div class="t" style="left:284.50px;top:280px;font-size:10.2px;-webkit-text-stroke:0.08px currentColor;color:#7b8494;transform:scaleX(1.036);">88</div>
<div class="t" style="left:112.00px;top:336px;font-size:10.2px;-webkit-text-stroke:0.08px currentColor;color:#7b8494;transform:scaleX(0.882);">7</div>
<div class="t" style="left:168.25px;top:336px;font-size:10.2px;-webkit-text-stroke:0.37px currentColor;color:#111827;transform:scaleX(1.070);">Your rank</div>
<div class="t" style="left:285.00px;top:336px;font-size:10.2px;-webkit-text-stroke:0.08px currentColor;color:#7b8494;transform:scaleX(0.992);">67</div>
<div class="t" style="left:111.90px;top:403px;font-size:13px;font-weight:700;color:#111827;transform:scaleX(1.059);">Top go link creators</div>
<div class="t" style="left:130.50px;top:497px;font-size:10.2px;-webkit-text-stroke:0.37px currentColor;color:#111827;transform:scaleX(1.084);">Angie</div>
<div class="t" style="left:190.75px;top:497px;font-size:10.2px;-webkit-text-stroke:0.37px currentColor;color:#111827;letter-spacing:0.190px;transform:scaleX(1.090);">Chris</div>
<div class="t" style="left:240.50px;top:497px;font-size:10.2px;-webkit-text-stroke:0.37px currentColor;color:#111827;letter-spacing:0.171px;transform:scaleX(1.090);">Jonathan</div>
<div class="t" style="left:139.00px;top:512px;font-size:10.2px;-webkit-text-stroke:0.08px currentColor;color:#7b8494;transform:scaleX(1.014);">52</div>
<div class="t" style="left:198.50px;top:512px;font-size:10.2px;-webkit-text-stroke:0.08px currentColor;color:#7b8494;transform:scaleX(1.014);">56</div>
<div class="t" style="left:258.00px;top:512px;font-size:10.2px;-webkit-text-stroke:0.08px currentColor;color:#7b8494;transform:scaleX(1.058);">49</div>
<div class="t" style="left:112.00px;top:561px;font-size:10.2px;-webkit-text-stroke:0.08px currentColor;color:#7b8494;transform:scaleX(0.882);">4</div>
<div class="t" style="left:168.20px;top:561px;font-size:10.2px;-webkit-text-stroke:0.37px currentColor;color:#111827;letter-spacing:0.223px;transform:scaleX(1.090);">Katherine</div>
<div class="t" style="left:286.00px;top:561px;font-size:10.2px;-webkit-text-stroke:0.08px currentColor;color:#7b8494;transform:scaleX(0.904);">41</div>
<div class="t" style="left:112.00px;top:604px;font-size:10.2px;-webkit-text-stroke:0.08px currentColor;color:#7b8494;transform:scaleX(0.882);">5</div>
<div class="t" style="left:168.20px;top:604px;font-size:10.2px;-webkit-text-stroke:0.37px currentColor;color:#111827;transform:scaleX(1.045);">Jake</div>
<div class="t" style="left:284.50px;top:604px;font-size:10.2px;-webkit-text-stroke:0.08px currentColor;color:#7b8494;transform:scaleX(1.036);">39</div>
<div class="t" style="left:112.00px;top:660px;font-size:10.2px;-webkit-text-stroke:0.08px currentColor;color:#7b8494;transform:scaleX(0.882);">9</div>
<div class="t" style="left:168.20px;top:660px;font-size:10.2px;-webkit-text-stroke:0.37px currentColor;color:#111827;transform:scaleX(1.071);">Your rank</div>
<div class="t" style="left:284.50px;top:660px;font-size:10.2px;-webkit-text-stroke:0.08px currentColor;color:#7b8494;transform:scaleX(1.036);">24</div>
<div class="t" style="left:333.00px;top:67px;font-size:11px;-webkit-text-stroke:0.40px currentColor;color:#5d6778;letter-spacing:0.612px;transform:scaleX(1.090);">Personal</div>
<div class="t" style="left:417.00px;top:67px;font-size:11px;-webkit-text-stroke:0.40px currentColor;color:#5d6778;letter-spacing:0.543px;transform:scaleX(1.090);">Workspace</div>
<div class="t" style="left:513.75px;top:67px;font-size:11px;-webkit-text-stroke:0.40px currentColor;color:#1ab99b;letter-spacing:0.449px;transform:scaleX(1.090);">SaaS Management</div>
<div class="t" style="left:333.00px;top:109px;font-size:20.3px;font-weight:700;color:#111827;letter-spacing:0.066px;transform:scaleX(1.090);">SaaS usage analytics</div>
<div class="t" style="left:573.75px;top:114px;font-size:9.5px;-webkit-text-stroke:0.15px currentColor;color:#5d6778;letter-spacing:0.461px;transform:scaleX(1.090);">Admin only</div>
<div class="t" style="left:912.75px;top:114px;font-size:10.2px;-webkit-text-stroke:0.16px currentColor;color:#2b3444;transform:scaleX(1.051);">Last 30 days</div>
<div class="t" style="left:351.75px;top:169px;font-size:13px;font-weight:700;color:#111827;transform:scaleX(1.036);">Top used apps</div>
<div class="t" style="left:504.25px;top:172px;font-size:10.2px;-webkit-text-stroke:0.08px currentColor;color:#7b8494;transform:scaleX(1.054);">Uses last 30 days</div>
<div class="t" style="left:616.25px;top:172px;font-size:10.2px;-webkit-text-stroke:0.08px currentColor;color:#7b8494;transform:scaleX(1.053);">30 days prior</div>
<div class="t" style="left:351.75px;top:201px;font-size:9.2px;-webkit-text-stroke:0.07px currentColor;color:#7b8494;transform:scaleX(0.912);">100</div>
<div class="t" style="left:356.00px;top:227px;font-size:9.2px;-webkit-text-stroke:0.07px currentColor;color:#7b8494;transform:scaleX(0.953);">80</div>
<div class="t" style="left:356.00px;top:252px;font-size:9.2px;-webkit-text-stroke:0.07px currentColor;color:#7b8494;transform:scaleX(0.953);">60</div>
<div class="t" style="left:356.00px;top:278px;font-size:9.2px;-webkit-text-stroke:0.07px currentColor;color:#7b8494;transform:scaleX(0.953);">40</div>
<div class="t" style="left:356.00px;top:303px;font-size:9.2px;-webkit-text-stroke:0.07px currentColor;color:#7b8494;transform:scaleX(0.953);">20</div>
<div class="t" style="left:360.50px;top:329px;font-size:9.2px;-webkit-text-stroke:0.07px currentColor;color:#7b8494;transform:scaleX(1.024);">0</div>
<div class="t" style="left:351.50px;top:385px;font-size:10.2px;-webkit-text-stroke:0.16px currentColor;color:#1ab99b;transform:scaleX(1.036);">View more</div>
<div class="t" style="left:404.31px;top:384px;font-size:11.5px;color:#1ab99b;font-family:'DejaVu Sans',sans-serif;transform:scaleX(0.880);">→</div>
<div class="t" style="left:618.00px;top:385px;font-size:10.2px;-webkit-text-stroke:0.08px currentColor;color:#7b8494;transform:scaleX(1.056);">Last 30 days</div>
<div class="t" style="left:738.60px;top:169px;font-size:13px;font-weight:700;color:#111827;transform:scaleX(1.069);">Newly discovered apps</div>
<div class="t" style="left:740.20px;top:202px;font-size:9.2px;-webkit-text-stroke:0.15px currentColor;color:#5d6778;transform:scaleX(1.043);">NAME</div>
<div class="t" style="left:874.00px;top:202px;font-size:9.2px;-webkit-text-stroke:0.15px currentColor;color:#5d6778;transform:scaleX(1.060);">GO LINKS</div>
<div class="t" style="left:948.10px;top:202px;font-size:9.2px;-webkit-text-stroke:0.15px currentColor;color:#5d6778;transform:scaleX(1.014);">USED BY</div>
<div class="t" style="left:770.75px;top:232px;font-size:10.2px;-webkit-text-stroke:0.37px currentColor;color:#111827;transform:scaleX(1.088);">Greenhouse</div>
<div class="t" style="left:770.75px;top:262px;font-size:10.2px;-webkit-text-stroke:0.37px currentColor;color:#111827;transform:scaleX(1.056);">Asana</div>
<div class="t" style="left:770.75px;top:294px;font-size:10.2px;-webkit-text-stroke:0.37px currentColor;color:#111827;transform:scaleX(1.071);">Go Visually</div>
<div class="t" style="left:770.75px;top:325px;font-size:10.2px;-webkit-text-stroke:0.37px currentColor;color:#111827;letter-spacing:0.134px;transform:scaleX(1.090);">Marketo</div>
<div class="t" style="left:770.75px;top:355px;font-size:10.2px;-webkit-text-stroke:0.37px currentColor;color:#111827;transform:scaleX(1.039);">PowerBI</div>
<div class="t" style="left:914.50px;top:232px;font-size:10.2px;-webkit-text-stroke:0.08px currentColor;color:#7b8494;transform:scaleX(0.970);">3</div>
<div class="t" style="left:914.50px;top:262px;font-size:10.2px;-webkit-text-stroke:0.08px currentColor;color:#7b8494;transform:scaleX(0.970);">2</div>
<div class="t" style="left:914.50px;top:294px;font-size:10.2px;-webkit-text-stroke:0.08px currentColor;color:#7b8494;transform:scaleX(0.970);">2</div>
<div class="t" style="left:915.75px;top:325px;font-size:10.2px;-webkit-text-stroke:0.08px currentColor;color:#7b8494;transform:scaleX(0.880);">1</div>
<div class="t" style="left:915.75px;top:355px;font-size:10.2px;-webkit-text-stroke:0.08px currentColor;color:#7b8494;transform:scaleX(0.880);">1</div>
<div class="t" style="left:953.75px;top:232px;font-size:10.2px;-webkit-text-stroke:0.08px currentColor;color:#7b8494;transform:scaleX(1.062);">5 users</div>
<div class="t" style="left:953.75px;top:262px;font-size:10.2px;-webkit-text-stroke:0.08px currentColor;color:#7b8494;transform:scaleX(1.062);">2 users</div>
<div class="t" style="left:960.75px;top:294px;font-size:10.2px;-webkit-text-stroke:0.08px currentColor;color:#7b8494;transform:scaleX(1.006);">1 user</div>
<div class="t" style="left:960.75px;top:325px;font-size:10.2px;-webkit-text-stroke:0.08px currentColor;color:#7b8494;transform:scaleX(1.006);">1 user</div>
<div class="t" style="left:960.75px;top:355px;font-size:10.2px;-webkit-text-stroke:0.08px currentColor;color:#7b8494;transform:scaleX(1.006);">1 user</div>
<div class="t" style="left:739.70px;top:385px;font-size:10.2px;-webkit-text-stroke:0.16px currentColor;color:#1ab99b;transform:scaleX(1.036);">View more</div>
<div class="t" style="left:792.51px;top:384px;font-size:11.5px;color:#1ab99b;font-family:'DejaVu Sans',sans-serif;transform:scaleX(0.880);">→</div>
<div class="t" style="left:928.75px;top:385px;font-size:10.2px;-webkit-text-stroke:0.08px currentColor;color:#7b8494;transform:scaleX(1.051);">Last 30 days</div>
<div class="t" style="left:351.50px;top:456px;font-size:13px;font-weight:700;color:#111827;letter-spacing:0.093px;transform:scaleX(1.090);">Team statistics</div>
<div class="t" style="left:404.90px;top:531px;font-size:18px;font-weight:700;color:#111827;transform:scaleX(0.914);">16</div>
<div class="t" style="left:391.50px;top:558px;font-size:9.5px;-webkit-text-stroke:0.34px currentColor;color:#111827;letter-spacing:0.374px;transform:scaleX(1.090);">Members</div>
<div class="t" style="left:522.00px;top:512px;font-size:10.2px;-webkit-text-stroke:0.08px currentColor;color:#7b8494;transform:scaleX(1.067);">Engineering</div>
<div class="t" style="left:522.00px;top:534px;font-size:10.2px;-webkit-text-stroke:0.08px currentColor;color:#7b8494;transform:scaleX(1.030);">Sales</div>
<div class="t" style="left:522.00px;top:556px;font-size:10.2px;-webkit-text-stroke:0.08px currentColor;color:#7b8494;transform:scaleX(1.056);">Design</div>
<div class="t" style="left:522.00px;top:577px;font-size:10.2px;-webkit-text-stroke:0.08px currentColor;color:#7b8494;transform:scaleX(1.090);">Marketing</div>
<div class="t" style="left:626.25px;top:512px;font-size:10.2px;-webkit-text-stroke:0.08px currentColor;color:#7b8494;transform:scaleX(1.073);">Customer Success</div>
<div class="t" style="left:626.25px;top:534px;font-size:10.2px;-webkit-text-stroke:0.08px currentColor;color:#7b8494;transform:scaleX(1.034);">Finance</div>
<div class="t" style="left:626.25px;top:556px;font-size:10.2px;-webkit-text-stroke:0.08px currentColor;color:#7b8494;letter-spacing:0.021px;transform:scaleX(1.090);">Unspecified</div>
<div class="t" style="left:626.25px;top:577px;font-size:10.2px;-webkit-text-stroke:0.08px currentColor;color:#7b8494;transform:scaleX(1.079);">Other</div>
<div class="t" style="left:351.50px;top:627px;font-size:10.2px;-webkit-text-stroke:0.16px currentColor;color:#1ab99b;transform:scaleX(1.080);">View details</div>
<div class="t" style="left:413.11px;top:626px;font-size:11.5px;color:#1ab99b;font-family:'DejaVu Sans',sans-serif;transform:scaleX(0.880);">→</div>
<div class="t" style="left:720.50px;top:627px;font-size:10.2px;-webkit-text-stroke:0.08px currentColor;color:#7b8494;transform:scaleX(1.070);">All time</div>
<div class="t" style="left:816.60px;top:456px;font-size:13px;font-weight:700;color:#111827;transform:scaleX(1.029);">ROI using GoLinks</div>
<div class="t" style="left:817.50px;top:496px;font-size:29px;font-weight:700;color:#111827;transform:scaleX(1.034);">$4,776</div>
<div class="t" style="left:817.50px;top:628px;font-size:10.2px;-webkit-text-stroke:0.16px currentColor;color:#1ab99b;transform:scaleX(1.076);">View details</div>
<div class="t" style="left:878.91px;top:627px;font-size:11.5px;color:#1ab99b;font-family:'DejaVu Sans',sans-serif;transform:scaleX(0.880);">→</div>
<div class="t" style="left:928.75px;top:628px;font-size:10.2px;-webkit-text-stroke:0.08px currentColor;color:#7b8494;transform:scaleX(1.047);">Last 30 days</div>
</div>
</body>
</html>
